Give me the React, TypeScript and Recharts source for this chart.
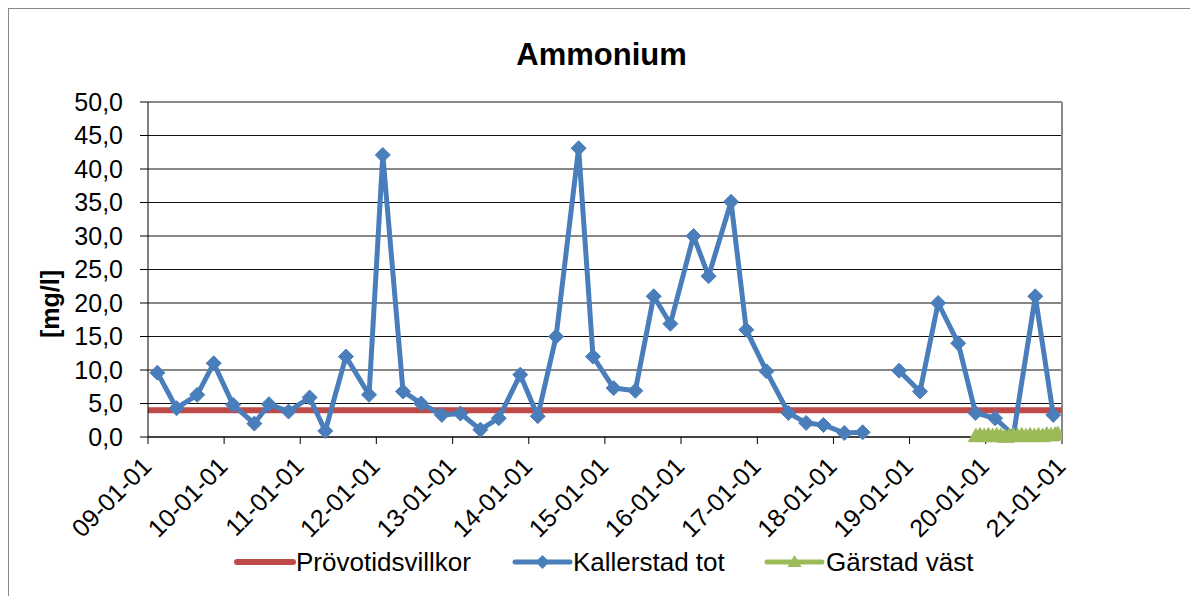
import { LineChart, Line, XAxis, YAxis, CartesianGrid, ReferenceLine } from "recharts";

// Kallerstad tot, sampled dates and NH4 [mg/l]; null = no sample (gap in the line)
const kallerstadDates = [
  "2009-02-15", "2009-05-18", "2009-08-25", "2009-11-12", "2010-02-13", "2010-05-26",
  "2010-08-04", "2010-11-06", "2011-02-15", "2011-05-01", "2011-08-08", "2011-11-27",
  "2012-02-01", "2012-05-08", "2012-08-03", "2012-11-10", "2013-02-07", "2013-05-14",
  "2013-08-10", "2013-11-21", "2014-02-13", "2014-05-12", "2014-08-28", "2014-11-05",
  "2015-02-12", "2015-05-27", "2015-08-23", "2015-11-11", "2016-03-01", "2016-05-12",
  "2016-08-28", "2016-11-09", "2017-02-14", "2017-05-30", "2017-08-23", "2017-11-14",
  "2018-02-22", "2018-05-21", "2018-08-15", "2018-11-12", "2019-02-20", "2019-05-18",
  "2019-08-22", "2019-11-13", "2020-02-15", "2020-05-13", "2020-08-26", "2020-11-20",
];
const kallerstadValues = [
  9.6, 4.3, 6.3, 11.0, 4.8, 2.0,
  4.9, 3.8, 5.9, 0.9, 12.0, 6.3,
  42.1, 6.8, 5.0, 3.3, 3.5, 1.1,
  2.8, 9.3, 3.1, 15.0, 43.1, 12.0,
  7.3, 6.9, 21.0, 16.9, 30.0, 24.0,
  35.1, 16.0, 9.8, 3.6, 2.1, 1.8,
  0.6, 0.7, null, 9.9, 6.8, 20.0,
  14.0, 3.6, 2.8, 0.3, 21.0, 3.3,
];

// Gärstad väst
const garstadDates = [
  "2019-11-15", "2019-12-05", "2019-12-25", "2020-01-14", "2020-02-03", "2020-02-23",
  "2020-03-14", "2020-04-03", "2020-04-23", "2020-05-13", "2020-06-02", "2020-06-22",
  "2020-07-12", "2020-08-01", "2020-08-21", "2020-09-10", "2020-09-30", "2020-10-20",
  "2020-11-09", "2020-11-29", "2020-12-12",
];
const garstadValues = [
  0.2, 0.3, 0.2, 0.3, 0.2, 0.3,
  0.2, 0.1, 0.2, 0.3, 0.2, 0.3,
  0.2, 0.3, 0.2, 0.3, 0.2, 0.4,
  0.3, 0.4, 0.5,
];

// Prövotidsvillkor (limit)
const limitDates = ["2009-01-01", "2021-01-01"];
const limitValues = [4.0, 4.0];

const tickDates = [
  "2009-01-01", "2010-01-01", "2011-01-01", "2012-01-01", "2013-01-01", "2014-01-01",
  "2015-01-01", "2016-01-01", "2017-01-01", "2018-01-01", "2019-01-01", "2020-01-01",
  "2021-01-01",
];
const yTicks = [0, 5, 10, 15, 20, 25, 30, 35, 40, 45, 50];

const ts = (s: string) => Date.parse(s + "T00:00:00Z");

const kallerstadData = kallerstadDates.map((d, i) => ({ t: ts(d), v: kallerstadValues[i] }));
const garstadData = garstadDates.map((d, i) => ({ t: ts(d), v: garstadValues[i] }));
const limitData = limitDates.map((d, i) => ({ t: ts(d), v: limitValues[i] }));

const BLUE = "#4A7EBB";
const RED = "#BE4B48";
const GREEN = "#9BBB59";
const FONT = "'Liberation Sans', Arial, sans-serif";

const fmtDate = (v: number) => {
  const d = new Date(v);
  const yy = String(d.getUTCFullYear() % 100).padStart(2, "0");
  const mm = String(d.getUTCMonth() + 1).padStart(2, "0");
  const dd = String(d.getUTCDate()).padStart(2, "0");
  return `${yy}-${mm}-${dd}`;
};

const Diamond = (props: any) => {
  const { cx, cy, index } = props;
  if (cx == null || cy == null || props.value == null) return <g key={`kd-${index}`} />;
  const s = 7.5;
  return (
    <path
      key={`kd-${index}`}
      d={`M${cx},${cy - s} L${cx + s},${cy} L${cx},${cy + s} L${cx - s},${cy} Z`}
      fill={BLUE}
      stroke={BLUE}
      strokeWidth={1}
    />
  );
};

const Triangle = (props: any) => {
  const { cx, cy, index } = props;
  if (cx == null || cy == null) return <g key={`gt-${index}`} />;
  const s = 7.5;
  return (
    <path
      key={`gt-${index}`}
      d={`M${cx},${cy - s} L${cx + s},${cy + s * 0.8} L${cx - s},${cy + s * 0.8} Z`}
      fill={GREEN}
      stroke={GREEN}
      strokeWidth={1}
    />
  );
};

const XTick = (props: any) => {
  const { x, y, payload } = props;
  const ax = x + 5;
  const ay = y + 22;
  return (
    <text
      x={ax}
      y={ay}
      transform={`rotate(-45 ${ax} ${ay})`}
      textAnchor="end"
      fontSize={25}
      fontFamily={FONT}
      fill="#000"
    >
      {fmtDate(payload.value)}
    </text>
  );
};

export default function App() {
  return (
    <div
      style={{
        position: "relative",
        width: 1200,
        height: 600,
        borderTop: "1px solid #888",
        borderLeft: "1px solid #888",
      }}
    >
      <LineChart
        width={1190}
        height={588}
        margin={{ top: 93, right: 137, bottom: 100, left: 39 }}
      >
        <CartesianGrid horizontal vertical={false} stroke="#111" strokeWidth={1} />
        <XAxis
          dataKey="t"
          type="number"
          scale="time"
          domain={[ts(tickDates[0]), ts(tickDates[tickDates.length - 1])]}
          ticks={tickDates.map(ts)}
          interval={0}
          allowDataOverflow
          height={60}
          tickSize={7}
          tickMargin={2}
          stroke="#000"
          tick={<XTick />}
        />
        <YAxis
          type="number"
          domain={[0, 50]}
          ticks={yTicks}
          interval={0}
          width={100}
          tickSize={8}
          tickMargin={17}
          stroke="#000"
          tickFormatter={(v: number) => v.toFixed(1).replace(".", ",")}
          tick={{ fontSize: 25, fontFamily: FONT, fill: "#000" }}
        />
        <ReferenceLine y={50} stroke="#888" strokeWidth={2} />
        <ReferenceLine x={ts(tickDates[tickDates.length - 1])} stroke="#888" strokeWidth={2} />
        <Line
          data={limitData}
          dataKey="v"
          stroke={RED}
          strokeWidth={6}
          dot={false}
          isAnimationActive={false}
        />
        <Line
          data={kallerstadData}
          dataKey="v"
          stroke={BLUE}
          strokeWidth={5}
          strokeLinejoin="round"
          dot={<Diamond />}
          connectNulls={false}
          isAnimationActive={false}
        />
        <Line
          data={garstadData}
          dataKey="v"
          stroke={GREEN}
          strokeWidth={5}
          dot={<Triangle />}
          isAnimationActive={false}
        />
      </LineChart>
      <svg
        width={1190}
        height={588}
        style={{ position: "absolute", left: 0, top: 0, pointerEvents: "none" }}
        fontFamily={FONT}
      >
        <text x={592.5} y={56} textAnchor="middle" fontSize={31} fontWeight="bold">
          Ammonium
        </text>
        <text
          x={50}
          y={295}
          transform="rotate(-90 50 295)"
          textAnchor="middle"
          fontSize={25}
          fontWeight="bold"
        >
          [mg/l]
        </text>
        <g fontSize={26}>
          <line x1={228} y1={553} x2={284} y2={553} stroke={RED} strokeWidth={6} strokeLinecap="round" />
          <text x={287} y={562}>Prövotidsvillkor</text>
          <line x1={506} y1={553} x2={561} y2={553} stroke={BLUE} strokeWidth={5} strokeLinecap="round" />
          <path d="M533.5,546 L540.5,553 L533.5,560 L526.5,553 Z" fill={BLUE} />
          <text x={564} y={562}>Kallerstad tot</text>
          <line x1={758} y1={553} x2={813} y2={553} stroke={GREEN} strokeWidth={5} strokeLinecap="round" />
          <path d="M785.5,546 L792.5,558 L778.5,558 Z" fill={GREEN} />
          <text x={817} y={562}>Gärstad väst</text>
        </g>
      </svg>
    </div>
  );
}
